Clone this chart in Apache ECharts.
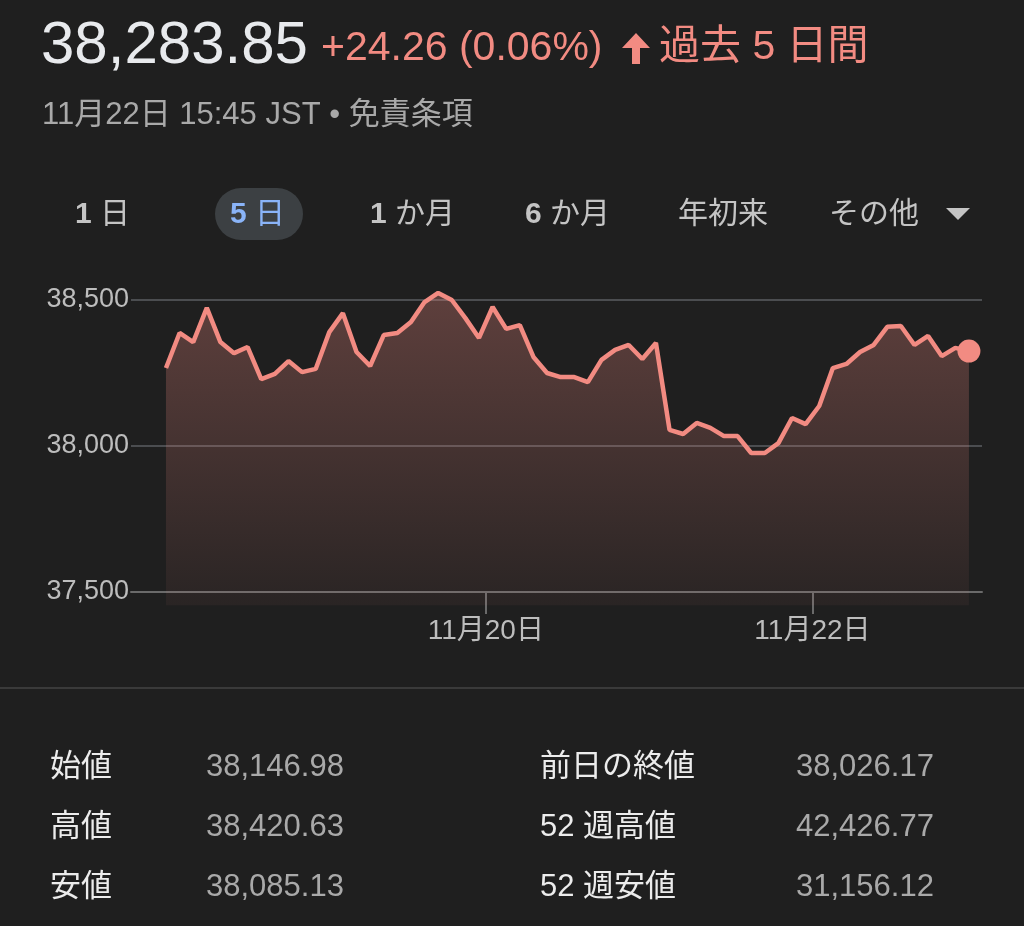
<!DOCTYPE html>
<html><head><meta charset="utf-8">
<script src="https://cdn.jsdelivr.net/npm/echarts@6/dist/echarts.min.js"></script>
<style>html,body{margin:0;padding:0;background:#1f1f1f}#c{width:1024px;height:926px}</style>
</head><body><div id="c"></div>
<script>
// ---- data ----
const prices = [38267,38387,38356,38473,38356,38318,38339,38229,38247,38291,38253,38264,
  38390,38455,38322,38274,38380,38387,38425,38493,38524,38500,38438,38370,
  38476,38401,38414,38305,38250,38236,38236,38219,38295,38329,38346,38298,
  38353,38055,38041,38079,38062,38034,38034,37976,37976,38010,38096,38075,
  38137,38267,38281,38322,38346,38408,38411,38346,38377,38308,38336,38325];
const dayTickIndex = [23.5, 47.5];
const dayTickLabels = ['11月20日', '11月22日'];
const yMin = 37500, yMax = 38500, yStep = 500;
const areaBase = 37455;
const headPrice = '38,283.85';
const headChange = '+24.26 (0.06%)';
const headPeriod = '過去 5 日間';
const headSub = '11月22日 15:45 JST • 免責条項';
const tabs = ['1 日', '5 日', '1 か月', '6 か月', '年初来', 'その他'];
const statLabelsL = ['始値', '高値', '安値'];
const statValuesL = ['38,146.98', '38,420.63', '38,085.13'];
const statLabelsR = ['前日の終値', '52 週高値', '52 週安値'];
const statValuesR = ['38,026.17', '42,426.77', '31,156.12'];

// ---- chart ----
const FONT = '"Liberation Sans","Noto Sans CJK JP",sans-serif';
const RED = '#f28b82';
const chart = echarts.init(document.getElementById('c'), null, {renderer: 'canvas'});

const tabX = [75, 230, 370, 525, 678, 829];
const graphics = [];
function txt(x, y, text, size, fill, extra) {
  graphics.push({type: 'text', x: x, y: y, silent: true,
    style: Object.assign({text: text, fontSize: size, fontFamily: FONT, fill: fill, verticalAlign: 'middle', align: 'left'}, extra || {})});
}
txt(41, 46, headPrice, 60, '#e8eaed');
txt(321, 49, headChange, 41, RED);
graphics.push({type: 'polygon', silent: true,
  shape: {points: [[622,48],[636,33],[650,48],[640,48],[640,64],[632,64],[632,48]]}, style: {fill: RED}});
txt(659, 48, headPeriod, 41, RED);
txt(42, 115, headSub, 31, '#a9a9a9');
graphics.push({type: 'rect', silent: true, shape: {x: 215, y: 188, width: 88, height: 52, r: 26}, style: {fill: '#3c4043'}});
tabs.forEach((t, i) => {
  const sel = i === 1;
  const col = sel ? '#8ab4f8' : '#c4c4c4';
  const m = t.match(/^(\d+)(.*)$/);
  const rich = {b: {fontSize: 30, fontWeight: 'bold', fontFamily: FONT, fill: col}, n: {fontSize: 30, fontFamily: FONT, fill: col}};
  const text = m ? '{b|' + m[1] + '}{n|' + m[2] + '}' : '{n|' + t + '}';
  txt(tabX[i], 215, text, 30, col, {rich: rich});
});
graphics.push({type: 'polygon', silent: true, shape: {points: [[946,208],[970,208],[958,220]]}, style: {fill: '#c4c4c4'}});
graphics.push({type: 'rect', silent: true, shape: {x: 0, y: 687, width: 1024, height: 2}, style: {fill: '#3a3a3a'}});
const rowsY = [767, 827, 887];
rowsY.forEach((y, i) => {
  txt(50, y, statLabelsL[i], 31, '#ececec');
  txt(206, y, statValuesL[i], 31, '#a9a9a9');
  txt(540, y, statLabelsR[i], 31, '#ececec');
  txt(796, y, statValuesR[i], 31, '#a9a9a9');
});

const lineData = prices.map((v, i) => [i, v]);
const last = prices.length - 1;

chart.setOption({
  backgroundColor: '#1f1f1f',
  animation: false,
  grid: {left: 131, right: 42, top: 300, bottom: 334, containLabel: false},
  xAxis: {
    type: 'value', min: -2.57, max: last + 0.96,
    splitLine: {show: false},
    axisLine: {show: true, lineStyle: {color: '#6a6a6a', width: 2}},
    axisTick: {show: true, customValues: dayTickIndex, length: 22, lineStyle: {color: '#6a6a6a', width: 2}},
    axisLabel: {show: true, customValues: dayTickIndex, margin: 25, fontSize: 28, fontFamily: FONT, color: '#bdbdbd',
      formatter: v => { const k = dayTickIndex.findIndex(d => Math.abs(d - v) < 1e-6); return k >= 0 ? dayTickLabels[k] : ''; }}
  },
  yAxis: {
    type: 'value', min: yMin, max: yMax, interval: yStep,
    axisLine: {show: false}, axisTick: {show: false},
    splitLine: {show: true, lineStyle: {color: '#4b4d50', width: 2}},
    axisLabel: {margin: 2, fontSize: 27, fontFamily: FONT, color: '#bdbdbd',
      formatter: v => v.toLocaleString('en-US')}
  },
  series: [{
    type: 'line', data: lineData, symbol: 'none', clip: false, smooth: false,
    lineStyle: {color: RED, width: 4.5},
    areaStyle: {origin: areaBase, opacity: 1, color: new echarts.graphic.LinearGradient(0, 0, 0, 1, [
      {offset: 0, color: 'rgba(242,139,130,0.30)'},
      {offset: 1, color: 'rgba(242,139,130,0.05)'}])},
    z: 3
  }, {
    type: 'scatter', data: [lineData[last]], symbol: 'circle', symbolSize: 23,
    itemStyle: {color: RED, opacity: 1}, clip: false, z: 4
  }],
  graphic: graphics
});
</script></body></html>
